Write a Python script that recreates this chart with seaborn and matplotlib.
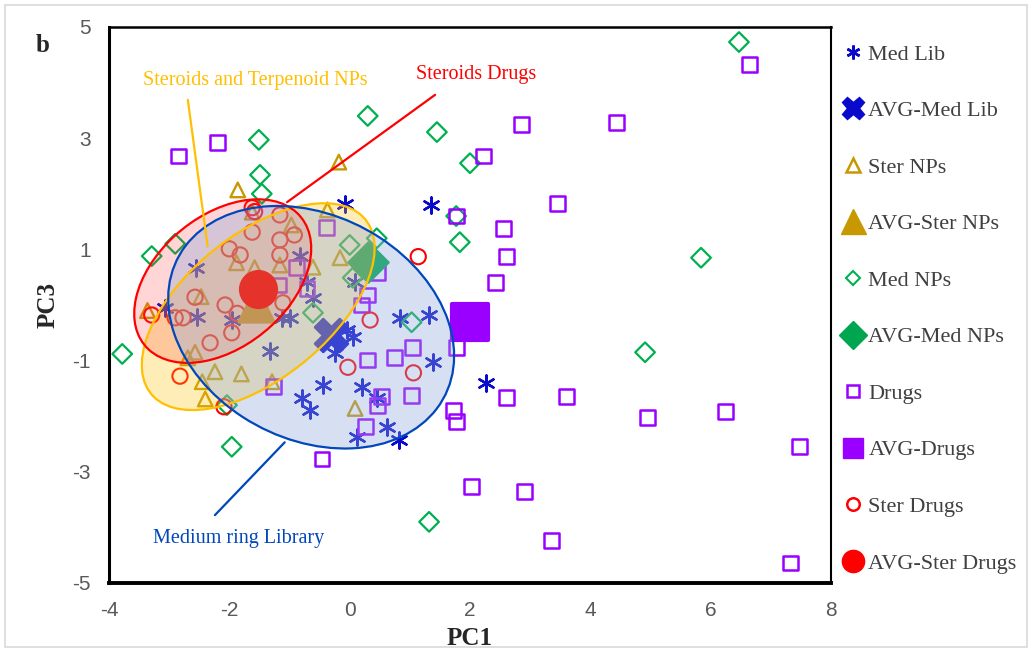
import numpy as np
import pandas as pd
import seaborn as sns
import matplotlib.pyplot as plt
from matplotlib.patches import Ellipse, Rectangle
from matplotlib.lines import Line2D

# ---- data ----
med_lib_x = [-0.08, 1.35, 2.27, -2.55, -3.07, -2.54, -1.96, -0.83, -0.71, -0.61, -1.13, -0.99, -1.32, -0.44,
             -0.79, -0.66, 0.09, 0.06, 0.84, 1.32, 1.39, 0.20, 0.45, 0.62, 0.82, 0.12, -0.24, -0.05]
med_lib_y = [1.82, 1.80, -1.40, 0.67, -0.05, -0.21, -0.27, 0.88, 0.41, 0.13, -0.23, -0.23, -0.83, -1.44,
             -1.67, -1.89, 0.41, -0.57, -0.24, -0.18, -1.03, -1.47, -1.67, -2.19, -2.43, -2.37, -0.87, -0.45]

ster_np_x = [-0.18, -1.86, -0.37, -0.97, -1.88, -1.58, -1.16, -0.61, -0.16, -2.47, -3.36, -2.57, -2.69,
             -2.24, -2.45, -1.80, -2.40, -1.29, 0.09, -1.62]
ster_np_y = [2.57, 2.07, 1.71, 1.44, 0.76, 0.67, 0.72, 0.68, 0.85, 0.15, -0.10, -0.85, -0.95,
             -1.20, -1.38, -1.24, -1.69, -1.38, -1.86, 1.67]

med_np_x = [6.47, 0.30, 1.45, 2.00, 1.77, 1.83, 5.84, 4.91, 1.32, -3.78, -1.96, -1.51, -1.49, -1.46,
            -3.29, -2.90, 0.00, 0.45, 0.05, -0.61, 1.03, -2.04]
med_np_y = [4.73, 3.40, 3.11, 2.55, 1.60, 1.13, 0.85, -0.85, -3.90, -0.88, -2.55, 2.97, 2.34, 2.00,
            0.88, 1.10, 1.08, 1.20, 0.49, -0.14, -0.31, -1.80]

drugs_x = [-2.84, -2.20, 6.64, 2.85, 4.43, 2.23, 3.45, 2.56, 2.61, 2.43, 1.77, 1.78, 2.60, 3.61, 4.95,
           6.24, 7.47, 2.02, 2.91, 3.36, 7.33, 1.72, 1.78, -0.46, -0.39, -0.89, -0.71, 0.47, 0.30,
           0.20, 0.30, 0.74, 1.05, 1.03, 0.53, 0.47, 0.27, -1.27, -1.19]
drugs_y = [2.68, 2.93, 4.33, 3.24, 3.29, 2.68, 1.83, 1.38, 0.88, 0.40, 1.60, -0.76, -1.67, -1.65, -2.03,
           -1.92, -2.55, -3.26, -3.36, -4.23, -4.64, -1.89, -2.09, -2.77, 1.39, 0.68, 0.30, 0.59, 0.18,
           0.00, -0.99, -0.94, -0.76, -1.62, -1.65, -1.80, -2.18, -1.46, 0.36]

ster_drug_x = [-1.62, -1.58, -1.16, -1.62, -0.92, -1.16, -2.00, -1.82, -1.16, -2.57, -2.07, -1.87, -1.11,
               -3.29, -2.90, -2.77, -1.96, -2.32, -2.82, -2.09, -0.03, 0.34, 1.14, 1.06]
ster_drug_y = [1.75, 1.68, 1.62, 1.31, 1.26, 1.17, 1.01, 0.90, 0.90, 0.14, 0.00, -0.15, 0.04,
               -0.18, -0.23, -0.23, -0.50, -0.68, -1.28, -1.83, -1.12, -0.27, 0.87, -1.22]

# group averages
avg_med_lib = (-0.31, -0.54)
avg_ster_np = (-1.55, 0.02)
avg_med_np = (0.30, 0.77)
avg_drugs = (2.00, -0.31)
avg_ster_drug = (-1.52, 0.29)

labels = ["Med Lib", "AVG-Med Lib", "Ster NPs", "AVG-Ster NPs", "Med NPs", "AVG-Med NPs",
          "Drugs", "AVG-Drugs", "Ster Drugs", "AVG-Ster Drugs"]

BLUE = "#0A0ACD"
GOLD = "#C89800"
GREEN = "#00B050"
PURPLE = "#9900FF"
RED = "#FF0000"
ASTER = (6, 2, 0)

sns.set_style("white")
plt.rcParams["font.family"] = ["Liberation Serif", "DejaVu Serif"]
plt.rcParams["axes.unicode_minus"] = False

fig = plt.figure(figsize=(10.34, 6.53), dpi=100)
ax = fig.add_axes([109 / 1034, 1 - 583 / 653, (831 - 109) / 1034, (583 - 27) / 653])

# single points
sns.scatterplot(x=med_lib_x, y=med_lib_y, marker=ASTER, s=135, color=BLUE, linewidth=1.7, ax=ax)
sns.scatterplot(x=ster_np_x, y=ster_np_y, marker="^", s=110, color=GOLD, facecolor="none",
                edgecolor=GOLD, linewidth=1.7, ax=ax)
sns.scatterplot(x=med_np_x, y=med_np_y, marker="D", s=100, color=GREEN, facecolor="none",
                edgecolor=GREEN, linewidth=1.6, ax=ax)
sns.scatterplot(x=drugs_x, y=drugs_y, marker="s", s=115, color=PURPLE, facecolor="none",
                edgecolor=PURPLE, linewidth=1.8, ax=ax)
sns.scatterplot(x=ster_drug_x, y=ster_drug_y, marker="o", s=120, color=RED, facecolor="none",
                edgecolor=RED, linewidth=1.5, ax=ax)

# averages
sns.scatterplot(x=[avg_med_lib[0]], y=[avg_med_lib[1]], marker="X", s=560, color=BLUE, edgecolor=BLUE, ax=ax)
sns.scatterplot(x=[avg_ster_np[0]], y=[avg_ster_np[1]], marker="^", s=650, color=GOLD, edgecolor=GOLD, ax=ax)
sns.scatterplot(x=[avg_med_np[0]], y=[avg_med_np[1]], marker="D", s=420, color="#00A550", edgecolor="#00A550", ax=ax)
sns.scatterplot(x=[avg_drugs[0]], y=[avg_drugs[1]], marker="s", s=700, color=PURPLE, edgecolor=PURPLE,
                linewidth=3, joinstyle="round", ax=ax)

# confidence ellipses drawn over the points
ax.add_patch(Ellipse((-1.52, -0.03), 4.75, 2.5, angle=43, facecolor="#FFC000", alpha=0.28, zorder=5))
ax.add_patch(Ellipse((-1.52, -0.03), 4.75, 2.5, angle=43, fill=False, edgecolor="#FFC000", lw=1.6, zorder=6))
ax.add_patch(Ellipse((-2.11, 0.43), 3.48, 2.28, angle=45, facecolor="#FF3030", alpha=0.2, zorder=5))
ax.add_patch(Ellipse((-2.11, 0.43), 3.48, 2.28, angle=45, fill=False, edgecolor=RED, lw=1.6, zorder=6))
ax.add_patch(Ellipse((-0.64, -0.40), 5.1, 3.95, angle=-35, facecolor="#8EA9DB", alpha=0.36, zorder=5))
ax.add_patch(Ellipse((-0.64, -0.40), 5.1, 3.95, angle=-35, fill=False, edgecolor="#0047BB", lw=1.6, zorder=6))

# steroid drug average sits on top of the shading
sns.scatterplot(x=[avg_ster_drug[0]], y=[avg_ster_drug[1]], marker="o", s=680, color="#E5322A",
                edgecolor="#E5322A", zorder=5.5, ax=ax)

# callouts
ax.plot([-2.69, -2.36], [3.69, 1.05], color="#FFC000", lw=1.6, zorder=7)
ax.plot([1.42, -1.04], [3.78, 1.85], color=RED, lw=1.6, zorder=7)
ax.plot([-2.24, -1.08], [-3.78, -2.47], color="#0047BB", lw=1.6, zorder=7)
ax.text(-1.57, 4.03, "Steroids and Terpenoid NPs", color="#FFC000", fontsize=14.5, ha="center", va="center")
ax.text(2.1, 4.15, "Steroids Drugs", color=RED, fontsize=14.5, ha="center", va="center")
ax.text(-1.84, -4.2, "Medium ring Library", color="#0047BB", fontsize=14.5, ha="center", va="center")

ax.set_xlim(-4, 8)
ax.set_ylim(-5, 5)
ax.set_xticks(np.arange(-4, 9, 2))
ax.set_yticks(np.arange(-5, 6, 2))
ax.tick_params(direction="in", length=5, width=1.5, colors="black", labelcolor="#595959",
               labelsize=15)
ax.tick_params(axis="x", pad=13)
ax.tick_params(axis="y", pad=13)
for t in ax.get_xticklabels() + ax.get_yticklabels():
    t.set_fontfamily("Liberation Sans")
for side, lw in [("left", 2.2), ("bottom", 2.8), ("top", 1.8), ("right", 1.5)]:
    ax.spines[side].set_linewidth(lw)
    ax.spines[side].set_color("black")
ax.set_xlabel("PC1", fontsize=18, fontweight="bold", labelpad=5)
ax.set_ylabel("PC3", fontsize=18, fontweight="bold", labelpad=9)
fig.text(43 / 1034, 1 - 46 / 653, "b", fontsize=18, fontweight="bold", ha="center", va="center")

# legend
handles = [
    Line2D([], [], ls="", marker=ASTER, ms=10, color=BLUE, mew=1.8),
    Line2D([], [], ls="", marker="X", ms=16, color=BLUE),
    Line2D([], [], ls="", marker="^", ms=10, mfc="none", mec=GOLD, mew=1.8),
    Line2D([], [], ls="", marker="^", ms=18, color=GOLD),
    Line2D([], [], ls="", marker="D", ms=7.5, mfc="none", mec=GREEN, mew=1.5),
    Line2D([], [], ls="", marker="D", ms=14, color="#00A550"),
    Line2D([], [], ls="", marker="s", ms=9, mfc="none", mec=PURPLE, mew=1.8),
    Line2D([], [], ls="", marker="s", ms=15, color=PURPLE),
    Line2D([], [], ls="", marker="o", ms=9, mfc="none", mec=RED, mew=1.8),
    Line2D([], [], ls="", marker="o", ms=16, color=RED),
]
leg = fig.legend(handles, labels, loc="upper left", bbox_to_anchor=(845 / 1034, 1 - 44 / 653),
                 frameon=False, fontsize=16, labelspacing=1.62, handlelength=0.75,
                 handletextpad=0.3, borderpad=0, borderaxespad=0)
for t in leg.get_texts():
    t.set_color("#404040")

fig.patches.append(Rectangle((5 / 1034, 6 / 653), 1022 / 1034, 642 / 653, transform=fig.transFigure,
                             fill=False, edgecolor="#D9D9D9", lw=1.2))

fig.savefig("out.png", dpi=100)
